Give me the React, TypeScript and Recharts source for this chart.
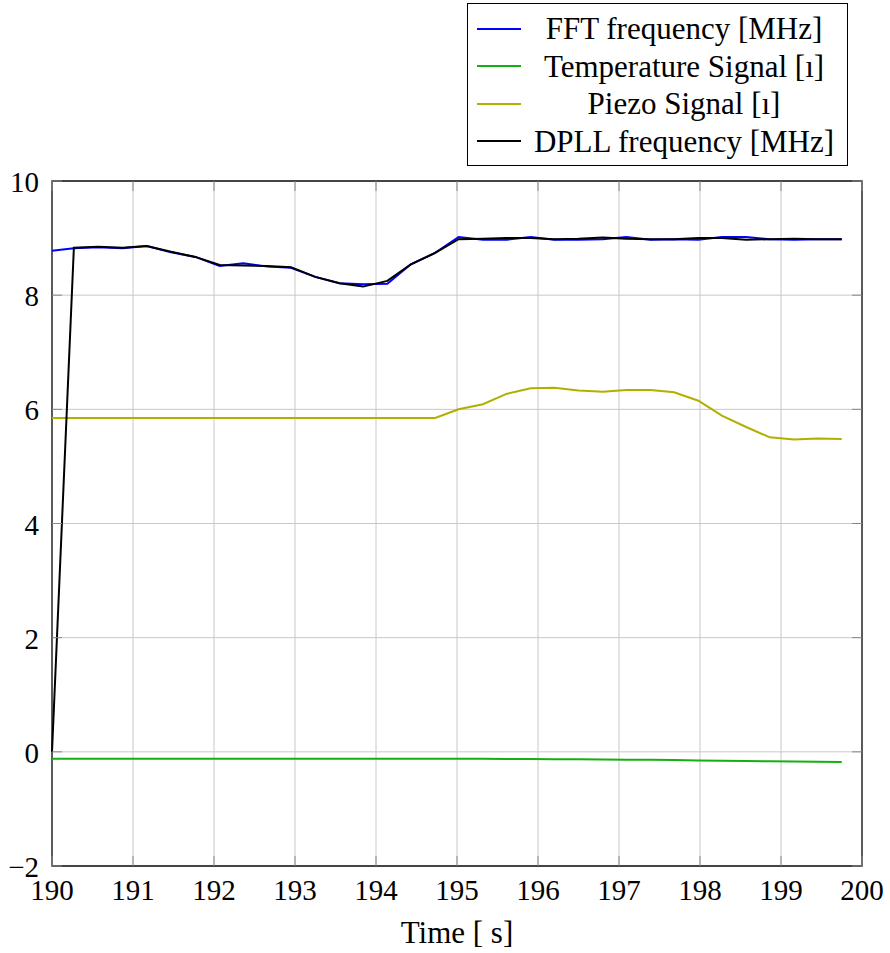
import React from "react";
import {
  LineChart,
  Line,
  XAxis,
  YAxis,
  CartesianGrid,
  ReferenceArea,
  Label,
} from "recharts";

// sample times [s]
const TIME = [
  190.0, 190.27, 190.57, 190.87, 191.17, 191.47, 191.77, 192.07, 192.36, 192.66,
  192.95, 193.25, 193.55, 193.84, 194.14, 194.43, 194.73, 195.02, 195.32, 195.61,
  195.91, 196.2, 196.5, 196.8, 197.09, 197.39, 197.68, 197.98, 198.27, 198.57,
  198.86, 199.16, 199.45, 199.75,
];

const FFT_FREQ = [
  8.78, 8.82, 8.84, 8.82, 8.86, 8.75, 8.67, 8.51, 8.56, 8.5,
  8.48, 8.32, 8.21, 8.19, 8.2, 8.54, 8.74, 9.02, 8.97, 8.97,
  9.02, 8.97, 8.97, 8.98, 9.02, 8.97, 8.98, 8.97, 9.02, 9.02,
  8.98, 8.97, 8.98, 8.98,
];

const TEMP_SIGNAL = [
  -0.12, -0.12, -0.12, -0.12, -0.12, -0.12, -0.12, -0.12, -0.12, -0.12,
  -0.12, -0.12, -0.12, -0.12, -0.12, -0.12, -0.12, -0.12, -0.12, -0.125,
  -0.125, -0.13, -0.13, -0.135, -0.14, -0.14, -0.145, -0.15, -0.155, -0.16,
  -0.165, -0.17, -0.175, -0.18,
];

const PIEZO_SIGNAL = [
  5.85, 5.85, 5.85, 5.85, 5.85, 5.85, 5.85, 5.85, 5.85, 5.85,
  5.85, 5.85, 5.85, 5.85, 5.85, 5.85, 5.85, 6.0, 6.09, 6.27,
  6.37, 6.38, 6.33, 6.31, 6.34, 6.34, 6.3, 6.15, 5.89, 5.69,
  5.51, 5.47, 5.49, 5.48,
];

const DPLL_FREQ = [
  0.0, 8.83, 8.85, 8.83, 8.86, 8.76, 8.67, 8.53, 8.52, 8.51,
  8.49, 8.32, 8.21, 8.15, 8.25, 8.54, 8.74, 8.98, 8.99, 9.0,
  9.0, 8.98, 8.99, 9.01, 8.99, 8.98, 8.98, 9.0, 9.0, 8.97,
  8.98, 8.99, 8.98, 8.98,
];

const X_TICKS = [190, 191, 192, 193, 194, 195, 196, 197, 198, 199, 200];
const Y_TICKS = [-2, 0, 2, 4, 6, 8, 10];

// series in legend / drawing order
const SERIES = [
  { key: "fft", name: "FFT frequency [MHz]", color: "#0000ff" },
  { key: "temp", name: "Temperature Signal [\u0131]", color: "#12b012" },
  { key: "piezo", name: "Piezo Signal [\u0131]", color: "#b0b000" },
  { key: "dpll", name: "DPLL frequency [MHz]", color: "#000000" },
];

const data = TIME.map((t, i) => ({
  t,
  fft: FFT_FREQ[i],
  temp: TEMP_SIGNAL[i],
  piezo: PIEZO_SIGNAL[i],
  dpll: DPLL_FREQ[i],
}));

const W = 890;
const H = 953;
const PLOT_LEFT = 52;
const PLOT_RIGHT = 862;
const PLOT_TOP = 181;
const PLOT_BOTTOM = 866;
const TICK_LEN = 10;
const FONT = "'Liberation Serif', 'Times New Roman', serif";
const TICK_FONT = 29;
const TEXT_FONT = 31;

const fmt = (v: number) => (v < 0 ? `\u2212${Math.abs(v)}` : `${v}`);

const XTick = (props: any) => {
  const { x, payload } = props;
  return (
    <g>
      <line x1={x} x2={x} y1={PLOT_BOTTOM} y2={PLOT_BOTTOM - TICK_LEN} stroke="#888" />
      <line x1={x} x2={x} y1={PLOT_TOP} y2={PLOT_TOP + TICK_LEN} stroke="#888" />
      <text
        x={x}
        y={PLOT_BOTTOM + 24}
        textAnchor="middle"
        dominantBaseline="central"
        fontFamily={FONT}
        fontSize={TICK_FONT}
        fill="#000"
      >
        {payload.value}
      </text>
    </g>
  );
};

const YTick = (props: any) => {
  const { y, payload } = props;
  return (
    <g>
      <line x1={PLOT_LEFT} x2={PLOT_LEFT + TICK_LEN} y1={y} y2={y} stroke="#888" />
      <line x1={PLOT_RIGHT} x2={PLOT_RIGHT - TICK_LEN} y1={y} y2={y} stroke="#888" />
      <text
        x={PLOT_LEFT - 13}
        y={y + 1}
        textAnchor="end"
        dominantBaseline="central"
        fontFamily={FONT}
        fontSize={TICK_FONT}
        fill="#000"
      >
        {fmt(payload.value)}
      </text>
    </g>
  );
};

const LegendBox = () => (
  <div
    style={{
      position: "absolute",
      left: 467,
      top: 3,
      width: 379,
      border: "1px solid #000",
      background: "#fff",
      padding: "6px 0 5px 0",
      fontFamily: FONT,
      fontSize: TEXT_FONT,
      color: "#000",
      lineHeight: 1,
    }}
  >
    {SERIES.map((s) => (
      <div key={s.key} style={{ display: "flex", alignItems: "center", height: 37.5 }}>
        <svg width={54} height={10} style={{ marginLeft: 9, flexShrink: 0 }}>
          <line x1={0} x2={44} y1={5} y2={5} stroke={s.color} strokeWidth={1.8} />
        </svg>
        <span style={{ flex: 1, textAlign: "center", whiteSpace: "nowrap", paddingRight: 10 }}>
          {s.name}
        </span>
      </div>
    ))}
  </div>
);

export default function App() {
  return (
    <div style={{ position: "absolute", left: 0, top: 0, width: W, height: H, background: "#fff" }}>
      <LineChart
        width={W}
        height={H}
        data={data}
        margin={{ top: PLOT_TOP, right: W - PLOT_RIGHT, bottom: 0, left: 0 }}
      >
        <CartesianGrid stroke="#c8c8c8" strokeWidth={1} />
        <XAxis
          dataKey="t"
          type="number"
          domain={[190, 200]}
          ticks={X_TICKS}
          height={H - PLOT_BOTTOM}
          tickSize={0}
          tickMargin={0}
          axisLine={false}
          tick={<XTick />}
          interval={0}
        >
          <Label
            content={() => (
              <text
                x={(PLOT_LEFT + PLOT_RIGHT) / 2}
                y={932}
                textAnchor="middle"
                dominantBaseline="central"
                fontFamily={FONT}
                fontSize={TEXT_FONT}
                fill="#000"
              >
                Time [ s]
              </text>
            )}
          />
        </XAxis>
        <YAxis
          type="number"
          domain={[-2, 10]}
          ticks={Y_TICKS}
          width={PLOT_LEFT}
          tickSize={0}
          tickMargin={0}
          axisLine={false}
          tick={<YTick />}
          interval={0}
        />
        <ReferenceArea
          x1={190}
          x2={200}
          y1={-2}
          y2={10}
          fill="none"
          stroke="#111"
          strokeWidth={1.3}
          ifOverflow="visible"
        />
        {SERIES.map((s) => (
          <Line
            key={s.key}
            type="linear"
            dataKey={s.key}
            name={s.name}
            stroke={s.color}
            strokeWidth={2}
            dot={false}
            isAnimationActive={false}
          />
        ))}
      </LineChart>
      <LegendBox />
    </div>
  );
}
